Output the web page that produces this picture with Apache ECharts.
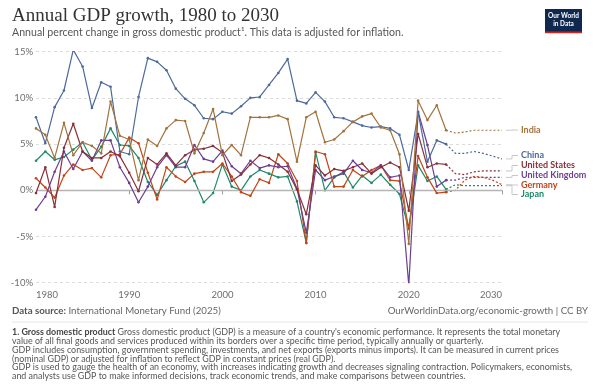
<!DOCTYPE html>
<html><head><meta charset="utf-8">
<script src="https://cdn.jsdelivr.net/npm/echarts@6/dist/echarts.min.js"></script>
<style>html,body{margin:0;padding:0;background:#fff}#c{width:600px;height:388px}</style>
</head><body><div id="c"></div>
<script>
const firstYear = 1980, lastYear = 2030, lastObserved = 2024;
const countries = ['India', 'China', 'United States', 'United Kingdom', 'Germany', 'Japan'];
// annual real GDP growth, % (1980..2030; 2025+ are IMF projections)
const india = [6.7,6.0,3.5,7.3,3.8,5.2,4.8,4.0,9.6,5.9, 5.5,1.1,5.5,4.8,6.7,7.6,7.5,4.0,6.2,8.8, 3.8,4.9,3.8,7.9,7.9,7.9,8.1,7.7,3.1,7.9, 8.5,5.2,5.5,6.4,7.4,8.0,8.3,6.8,6.5,3.9, -5.8,9.7,7.6,9.2,6.5,6.2,6.3,6.5,6.5,6.5, 6.5];
const china = [7.9,5.1,9.0,10.8,15.2,13.4,8.9,11.7,11.2,4.2, 3.9,10.1,14.3,13.9,13.0,11.0,9.9,9.2,7.8,7.7, 8.5,8.3,9.1,10.0,10.1,11.4,12.7,14.2,9.7,9.4, 10.6,9.6,7.9,7.8,7.4,7.0,6.8,6.9,6.7,6.0, 2.2,8.4,3.1,5.4,5.0,4.0,4.0,4.2,4.0,3.7, 3.4];
const unitedStates = [-0.3,2.5,-1.8,4.6,7.2,4.2,3.5,3.5,4.2,3.7, 1.9,-0.1,3.5,2.8,4.0,2.7,3.8,4.4,4.5,4.8, 4.1,1.0,1.7,2.8,3.8,3.5,2.8,2.0,0.1,-2.6, 2.7,1.6,2.3,2.1,2.5,2.9,1.8,2.5,3.0,2.5, -2.2,6.1,2.5,2.9,2.8,1.8,1.7,2.0,2.1,2.1, 2.1];
const unitedKingdom = [-2.1,-0.7,2.0,4.2,2.3,4.2,3.2,5.4,5.4,2.5, 0.8,-1.3,0.4,2.5,3.8,2.5,2.5,4.9,3.4,3.1, 4.3,2.6,1.8,3.2,2.4,2.7,2.5,2.6,0.2,-4.6, 2.2,1.1,1.5,1.8,3.2,2.2,1.9,2.7,1.4,1.6, -10.3,8.5,4.9,0.4,1.1,1.1,1.4,1.4,1.4,1.4, 1.4];
const germany = [1.3,0.3,-0.8,1.6,2.8,2.2,2.4,1.4,3.8,3.9, 5.7,5.1,1.9,-1.0,2.5,1.5,0.9,1.8,2.0,2.0, 2.9,1.5,-0.2,-0.6,1.2,0.8,3.9,2.9,1.0,-5.7, 4.2,3.9,0.4,0.4,2.2,1.5,2.2,2.7,1.1,1.0, -4.1,3.7,1.4,-0.3,-0.2,0.0,1.1,1.5,1.4,1.1, 0.6];
const japan = [3.2,4.2,3.3,3.6,4.4,5.2,3.3,4.7,6.7,4.9, 4.8,3.5,0.9,-0.5,1.1,2.6,3.1,1.0,-1.3,-0.3, 2.8,0.4,0.0,1.5,2.2,1.8,1.4,1.5,-1.2,-5.7, 4.1,0.0,1.4,2.0,0.3,1.6,0.8,1.7,0.6,-0.4, -4.2,2.7,1.0,1.5,0.1,0.6,0.5,0.5,0.5,0.5, 0.5];
const values = [india, china, unitedStates, unitedKingdom, germany, japan];
const colors = ['#a2733d', '#4c6a9c', '#883039', '#6d3e91', '#c0461a', '#1f8a6a'];
const yTicks = [-10, -5, 0, 5, 10, 15];
const xTicks = [1980, 1990, 2000, 2010, 2020, 2030];
const labelY = [130, 155.5, 165.5, 175.5, 185, 194.5];

const FONT = 'Lato, "Noto Sans", sans-serif';
const chart = echarts.init(document.getElementById('c'), null, {renderer: 'canvas'});

const series = [];
values.forEach((vals, i) => {
  const hist = [], proj = [];
  vals.forEach((v, k) => {
    const yr = firstYear + k;
    if (yr <= lastObserved) hist.push([yr, v]);
    if (yr >= lastObserved) proj.push([yr, v]);
  });
  series.push({
    name: countries[i], type: 'line', data: hist, color: colors[i],
    symbol: 'circle', symbolSize: 2.6, showSymbol: true,
    lineStyle: {width: 1.2, color: colors[i]}, itemStyle: {color: colors[i]},
    z: 3 + (values.length - i), silent: true,
    markLine: i === 0 ? {silent: true, symbol: 'none', label: {show: false},
      lineStyle: {color: '#b5b5b5', type: 'solid', width: 1.4},
      data: [{yAxis: 0}]} : undefined
  });
  series.push({
    name: countries[i] + ' (projection)', type: 'line', data: proj,
    showSymbol: false, symbol: 'none',
    lineStyle: {width: 1.2, color: colors[i], type: [2, 2]},
    z: 3, silent: true
  });
});

chart.setOption({
  animation: false,
  grid: {left: 36, right: 98, top: 51.7, bottom: 105.3, containLabel: false},
  xAxis: {
    type: 'value', min: firstYear, max: lastYear, interval: 10,
    axisLine: {show: false},
    axisTick: {show: true, length: 4, lineStyle: {color: '#999'}},
    splitLine: {show: false},
    axisLabel: {color: '#6e6e6e', fontSize: 9.5, fontFamily: FONT, margin: 7,
      formatter: v => String(v), alignMinLabel: 'left', alignMaxLabel: 'right'}
  },
  yAxis: {
    type: 'value', min: yTicks[0], max: yTicks[yTicks.length - 1], interval: 5,
    axisLine: {show: false}, axisTick: {show: false},
    splitLine: {show: true, lineStyle: {color: '#dcdcdc', type: [3, 3], width: 1}},
    axisLabel: {color: '#6e6e6e', fontSize: 9.5, fontFamily: FONT, margin: 3,
      formatter: v => v + '%'}
  },
  series: series
});

// labels with connectors
const graphics = [];
values.forEach((vals, i) => {
  const p = chart.convertToPixel({gridIndex: 0}, [lastYear, vals[vals.length - 1]]);
  const x0 = p[0] + 4, xm = x0 + 6, x1 = x0 + 12, ly = labelY[i];
  graphics.push({type: 'polyline', silent: true,
    shape: {points: [[x0, p[1]], [xm, p[1]], [xm, ly], [x1, ly]]},
    style: {stroke: '#c8c8c8', lineWidth: 1, fill: null}});
  graphics.push({type: 'text', x: x1 + 3, y: ly, silent: true,
    style: {text: countries[i], fill: colors[i], font: 'bold 9px ' + FONT,
      textVerticalAlign: 'middle', verticalAlign: 'middle'}});
});

// title, subtitle, footers, logo
graphics.push({type: 'text', x: 12, y: 7, style: {text: 'Annual GDP growth, 1980 to 2030',
  fill: '#333', font: '19px "Liberation Serif", "DejaVu Serif", serif'}});
graphics.push({type: 'text', x: 12, y: 27, style: {
  text: 'Annual percent change in gross domestic product¹. This data is adjusted for inflation.',
  fill: '#555', font: '10.6px ' + FONT}});
graphics.push({type: 'group', x: 545, y: 9, children: [
  {type: 'rect', shape: {x: 0, y: 0, width: 37, height: 24}, style: {fill: '#0f2850'}},
  {type: 'rect', shape: {x: 0, y: 22.5, width: 37, height: 1.8}, style: {fill: '#ce261e'}},
  {type: 'text', x: 18.5, y: 11, style: {text: 'Our World\nin Data', fill: '#fff',
    font: 'bold 6.5px ' + FONT, align: 'center', verticalAlign: 'middle', lineHeight: 7.5}}
]});
graphics.push({type: 'text', x: 12, y: 305.5, style: {
  text: '{b|Data source:} International Monetary Fund (2025)',
  rich: {b: {font: 'bold 9.7px ' + FONT, fill: '#555'}},
  fill: '#666', font: '9.7px ' + FONT}});
graphics.push({type: 'text', x: 588, y: 305.5, style: {
  text: 'OurWorldinData.org/economic-growth | CC BY',
  fill: '#666', font: '9.7px ' + FONT, align: 'right'}});
graphics.push({type: 'line', shape: {x1: 12, y1: 322, x2: 588, y2: 322},
  style: {stroke: '#e6e6e6', lineWidth: 1}});
const foot = [
  '{b|1. Gross domestic product} Gross domestic product (GDP) is a measure of a country\'s economic performance. It represents the total monetary',
  'value of all final goods and services produced within its borders over a specific time period, typically annually or quarterly.',
  'GDP includes consumption, government spending, investments, and net exports (exports minus imports). It can be measured in current prices',
  '(nominal GDP) or adjusted for inflation to reflect GDP in constant prices (real GDP).',
  'GDP is used to gauge the health of an economy, with increases indicating growth and decreases signaling contraction. Policymakers, economists,',
  'and analysts use GDP to make informed decisions, track economic trends, and make comparisons between countries.'
].join('\n');
graphics.push({type: 'text', x: 12, y: 328, style: {text: foot, fill: '#555',
  font: '8.9px ' + FONT, lineHeight: 8.8,
  rich: {b: {font: 'bold 8.9px ' + FONT, fill: '#444', lineHeight: 8.8}}}});

chart.setOption({graphic: graphics});
</script></body></html>
